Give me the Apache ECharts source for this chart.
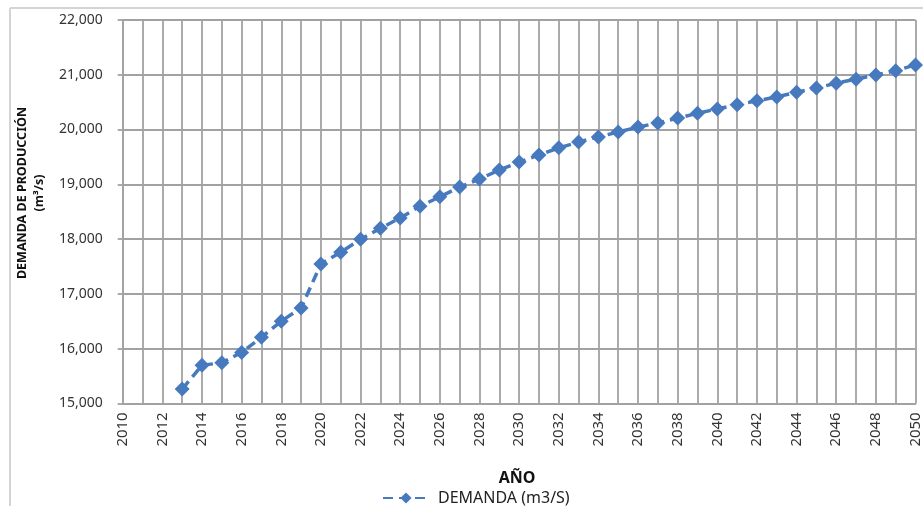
<!DOCTYPE html>
<html>
<head>
<meta charset="utf-8">
<script src="https://cdn.jsdelivr.net/npm/echarts@6/dist/echarts.min.js"></script>
<style>
html,body{margin:0;padding:0;background:#fff;}
#chart{width:923px;height:506px;}
</style>
</head>
<body>
<div id="chart"></div>
<script>
// Data
var years = [2013,2014,2015,2016,2017,2018,2019,2020,2021,2022,2023,2024,2025,2026,2027,2028,2029,2030,2031,2032,2033,2034,2035,2036,2037,2038,2039,2040,2041,2042,2043,2044,2045,2046,2047,2048,2049,2050];
var demanda = [15260,15695,15740,15930,16205,16500,16740,17545,17760,17995,18195,18385,18600,18770,18950,19095,19260,19405,19535,19665,19770,19865,19955,20045,20120,20210,20295,20375,20450,20525,20595,20680,20760,20845,20920,20995,21075,21180];
var seriesName = 'DEMANDA (m3/S)';
var xAxisTitle = 'AÑO';
var yAxisTitle1 = 'DEMANDA DE PRODUCCIÓN';
var yAxisTitle2 = '(m³/s)';
var xMin = 2010, xMax = 2050, yMin = 15000, yMax = 22000, yStep = 1000;

var pts = years.map(function (y, i) { return [y, demanda[i]]; });
var blue = '#4679bd';
var gridColor = '#a2a2a2';

var chart = echarts.init(document.getElementById('chart'), null, {renderer: 'canvas'});
chart.setOption({
  animation: false,
  backgroundColor: '#ffffff',
  grid: {left: 122.7, right: 0.3, top: 20, bottom: 102.7, containLabel: false},
  xAxis: {
    type: 'value', min: xMin, max: xMax, interval: 1,
    axisLine: {show: true, lineStyle: {color: gridColor, width: 1.8}},
    axisTick: {show: false},
    splitLine: {show: true, lineStyle: {color: gridColor, width: 1.8}},
    axisLabel: {
      rotate: 90, margin: 9, color: '#333', fontFamily: 'Noto Sans', fontSize: 15,
      formatter: function (v) { return v % 2 === 0 ? String(v) : ''; }
    }
  },
  yAxis: {
    type: 'value', min: yMin, max: yMax, interval: yStep,
    axisLine: {show: true, lineStyle: {color: gridColor, width: 1.8}},
    axisTick: {show: true, length: 5, lineStyle: {color: gridColor, width: 1.8}},
    splitLine: {show: true, lineStyle: {color: gridColor, width: 1.8}},
    axisLabel: {
      margin: 20, color: '#333', fontFamily: 'Noto Sans', fontSize: 14,
      formatter: function (v) { return v.toLocaleString('en-US'); }
    }
  },
  legend: {
    data: [seriesName], left: 377, top: 485, itemWidth: 46, itemHeight: 14,
    textStyle: {fontFamily: 'Noto Sans', fontSize: 16, color: '#222', padding: [0, 0, 0, 4]}
  },
  series: [{
    name: seriesName, type: 'line', data: pts,
    symbol: 'diamond', symbolSize: 15,
    lineStyle: {color: blue, width: 3.5, type: [10, 6]},
    itemStyle: {color: blue}
  }],
  graphic: [
    {type: 'line', shape: {x1: 10, y1: 8, x2: 923, y2: 8}, style: {stroke: '#d4d4d4', lineWidth: 2}},
    {type: 'line', shape: {x1: 10, y1: 8, x2: 10, y2: 506}, style: {stroke: '#d4d4d4', lineWidth: 2}},
    {type: 'text', x: 22, y: 193, rotation: Math.PI / 2,
      style: {text: yAxisTitle1, font: 'bold 12.5px "Noto Sans"', align: 'center', verticalAlign: 'middle', fill: '#111'}},
    {type: 'text', x: 39, y: 193, rotation: Math.PI / 2,
      style: {text: yAxisTitle2, font: 'bold 12.5px "Noto Sans"', align: 'center', verticalAlign: 'middle', fill: '#111'}},
    {type: 'text', x: 517, y: 478,
      style: {text: xAxisTitle, font: 'bold 16px "Noto Sans"', align: 'center', verticalAlign: 'middle', fill: '#111'}}
  ]
});
</script>
</body>
</html>
